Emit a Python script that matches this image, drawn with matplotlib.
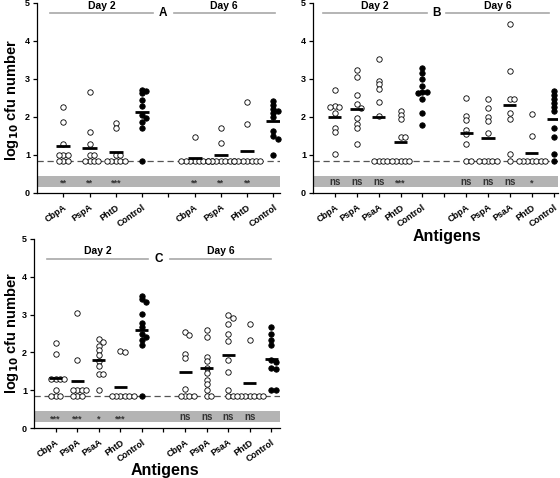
import numpy as np
import matplotlib
matplotlib.use('Agg')
import matplotlib.pyplot as plt

plt.rcParams['font.family'] = ['Liberation Sans', 'DejaVu Sans']
plt.rcParams['font.weight'] = 'bold'

# ---- data (log10 cfu) ----
a_labels = ['CbpA', 'PspA', 'PhtD', 'Control']
a_day2 = [[2.27, 1.88, 1.30, 1.00, 1.00, 1.00, 0.85, 0.85, 0.85],
          [2.65, 1.60, 1.30, 1.00, 1.00, 0.85, 0.85, 0.85, 0.85],
          [1.83, 1.70, 1.00, 1.00, 0.85, 0.85, 0.85, 0.85, 0.85],
          [2.72, 2.68, 2.62, 2.45, 2.30, 2.05, 1.98, 1.88, 1.70, 0.85]]
a_day6 = [[1.48, 0.85, 0.85, 0.85, 0.85, 0.85, 0.85, 0.85, 0.85],
          [1.70, 1.32, 0.85, 0.85, 0.85, 0.85, 0.85, 0.85, 0.85],
          [2.40, 1.82, 0.85, 0.85, 0.85, 0.85, 0.85, 0.85, 0.85],
          [2.42, 2.32, 2.20, 2.15, 2.10, 2.00, 1.62, 1.50, 1.42, 1.00]]
a_mean2 = [1.24, 1.19, 1.08, 2.12]
a_mean6 = [0.93, 0.99, 1.11, 1.90]
a_sig2 = ['**', '**', '***', '']
a_sig6 = ['**', '**', '**', '']

b_labels = ['CbpA', 'PspA', 'PsaA', 'PhtD', 'Control']
b_day2 = [[2.71, 2.29, 2.27, 2.27, 2.11, 1.70, 1.60, 1.02],
          [3.25, 3.04, 2.58, 2.33, 2.25, 1.98, 1.82, 1.72, 1.28],
          [3.53, 2.96, 2.87, 2.73, 2.40, 2.03, 0.85, 0.85, 0.85, 0.85],
          [2.17, 2.05, 1.95, 1.48, 1.48, 0.85, 0.85, 0.85, 0.85, 0.85],
          [3.28, 3.15, 2.99, 2.82, 2.65, 2.65, 2.62, 2.47, 2.10, 1.79]]
b_day6 = [[2.50, 2.03, 1.92, 1.67, 1.55, 1.30, 0.85, 0.85],
          [2.47, 2.23, 2.01, 1.90, 1.57, 0.85, 0.85, 0.85, 0.85, 0.85],
          [4.44, 3.22, 2.47, 2.47, 2.10, 1.94, 1.02, 0.85],
          [2.09, 1.49, 0.85, 0.85, 0.85, 0.85, 0.85, 0.85, 0.85],
          [2.69, 2.58, 2.47, 2.37, 2.27, 2.15, 1.72, 1.48, 1.02, 0.85]]
b_mean2 = [1.99, 2.21, 1.99, 1.35, 2.65]
b_mean6 = [1.59, 1.46, 2.32, 1.06, 1.95]
b_sig2 = ['ns', 'ns', 'ns', '***', '']
b_sig6 = ['ns', 'ns', 'ns', '*', '']

c_labels = ['CbpA', 'PspA', 'PsaA', 'PhtD', 'Control']
c_day2 = [[2.26, 1.96, 1.30, 1.30, 1.30, 1.30, 1.00, 0.85, 0.85, 0.85],
          [3.04, 1.80, 1.00, 1.00, 1.00, 1.00, 0.85, 0.85, 0.85],
          [2.35, 2.27, 2.16, 2.07, 1.94, 1.78, 1.63, 1.43, 1.43, 1.00],
          [2.04, 2.00, 0.85, 0.85, 0.85, 0.85, 0.85, 0.85],
          [3.50, 3.40, 3.33, 3.02, 2.78, 2.68, 2.48, 2.42, 2.33, 2.20, 0.85]]
c_day6 = [[2.55, 2.47, 1.96, 1.85, 1.02, 0.85, 0.85, 0.85, 0.85],
          [2.60, 2.42, 1.87, 1.76, 1.58, 1.45, 1.27, 1.17, 1.00, 0.85, 0.85],
          [3.00, 2.92, 2.75, 2.50, 2.30, 1.80, 1.47, 1.00, 0.85, 0.85],
          [2.75, 2.32, 0.85, 0.85, 0.85, 0.85, 0.85, 0.85, 0.85],
          [2.68, 2.50, 2.32, 2.20, 1.80, 1.75, 1.60, 1.55, 1.00, 1.00]]
c_mean2 = [1.32, 1.25, 1.80, 1.08, 2.58]
c_mean6 = [1.47, 1.60, 1.94, 1.18, 1.82]
c_sig2 = ['***', '***', '*', '***', '']
c_sig6 = ['ns', 'ns', 'ns', 'ns', '']

detect_limit = 0.85

W, H = 560, 478
fig = plt.figure(figsize=(W / 100, H / 100), dpi=100)


def swarm(vals, sx, sy, step=4.4, gap=3.2):
    # simple beeswarm in pixel space; circles may overlap a little
    placed = []
    offs = []
    for v in vals:
        for k in range(0, 30):
            c = ((k + 1) // 2) * step * (1 if k % 2 else -1) if k else 0.0
            if all((c - px) ** 2 + ((v - pv) * sy) ** 2 >= gap ** 2 for px, pv in placed):
                break
        placed.append((c, v))
        offs.append(c / sx)
    return np.array(offs)


def panel(rect_px, xmax, labels, day2, day6, mean2, mean6, sig2, sig6,
          letter, hdr_y, hdr_txt_y, hdr_spans, barw):
    l, r, b, t = rect_px
    ax = fig.add_axes([l / W, 1 - b / H, (r - l) / W, (b - t) / H])
    ax.set_xlim(0, xmax)
    ax.set_ylim(0, 5)
    sx = (r - l) / xmax
    sy = (b - t) / 5.0
    n = len(labels)
    pos2 = np.arange(1, n + 1)
    pos6 = np.arange(n + 2, 2 * n + 2)

    ax.axhspan(0.15, 0.45, color='#b4b4b4', lw=0, zorder=0)
    ax.axhline(detect_limit, color='#555555', lw=0.9, ls=(0, (5, 3)), zorder=1)

    for pos, groups, means, sigs in ((pos2, day2, mean2, sig2), (pos6, day6, mean6, sig6)):
        for i, (x, vals) in enumerate(zip(pos, groups)):
            filled = labels[i] == 'Control'
            offs = swarm(vals, sx, sy)
            ax.plot(x + offs, vals, 'o', ms=3.9, mew=0.6,
                    mfc='black' if filled else 'white', mec='black',
                    ls='none', zorder=3, clip_on=False)
            ax.hlines(means[i], x - barw, x + barw, color='black', lw=2.0, zorder=4)
            if sigs[i]:
                fs = 7 if sigs[i] == 'ns' else 6.5
                ax.text(x, 0.30 if sigs[i] == 'ns' else 0.25, sigs[i], ha='center', va='center',
                        fontsize=fs, color='#333333', fontweight='bold', zorder=2)

    # group headers
    (a0, a1), (b0, b1) = hdr_spans
    for x0, x1, txt in ((a0, a1, 'Day 2'), (b0, b1, 'Day 6')):
        ax.plot([x0, x1], [hdr_y, hdr_y], color='#a8a8a8', lw=1.2, clip_on=False)
        ax.text((x0 + x1) / 2, hdr_txt_y, txt, ha='center', va='center',
                fontsize=7.5, fontweight='bold')
    ax.text((a1 + b0) / 2, hdr_y, letter, ha='center', va='center',
            fontsize=8.5, fontweight='bold')

    ticks = list(pos2) + [n + 1] + list(pos6)
    ax.set_xticks(ticks)
    ax.set_xticklabels(labels + [''] + labels, rotation=35, ha='right',
                       rotation_mode='anchor', fontsize=6.5, fontweight='bold')
    ax.set_yticks(range(6))
    ax.set_yticklabels([str(v) for v in range(6)], fontsize=6.5, fontweight='bold')
    ax.tick_params(axis='both', length=3, width=0.9, pad=2)
    ax.tick_params(axis='x', pad=4)
    for s in ('top', 'right'):
        ax.spines[s].set_visible(False)
    for s in ('left', 'bottom'):
        ax.spines[s].set_linewidth(0.9)
    return ax


panel((37, 280, 193, 3), 9.25, a_labels, a_day2, a_day6, a_mean2, a_mean6,
      a_sig2, a_sig6, 'A', 4.74, 4.93, ((0.5, 4.4), (5.2, 9.05)), 0.27)
panel((313, 558, 193, 3), 11.2, b_labels, b_day2, b_day6, b_mean2, b_mean6,
      b_sig2, b_sig6, 'B', 4.74, 4.93, ((0.45, 5.2), (6.1, 10.8)), 0.3)
panel((34, 280, 428, 239), 11.4, c_labels, c_day2, c_day6, c_mean2, c_mean6,
      c_sig2, c_sig6, 'C', 4.48, 4.67, ((0.6, 5.3), (6.3, 11.0)), 0.3)

fig.text(12 / W, 1 - 100 / H, 'log$_{10}$ cfu number', rotation=90, ha='center',
         va='center', fontsize=10.5, fontweight='bold')
fig.text(12 / W, 1 - 333 / H, 'log$_{10}$ cfu number', rotation=90, ha='center',
         va='center', fontsize=10.5, fontweight='bold')
fig.text(447 / W, 1 - 236 / H, 'Antigens', ha='center', va='center',
         fontsize=11.5, fontweight='bold')
fig.text(165 / W, 1 - 470 / H, 'Antigens', ha='center', va='center',
         fontsize=11.5, fontweight='bold')

fig.savefig('out.png', dpi=100)
